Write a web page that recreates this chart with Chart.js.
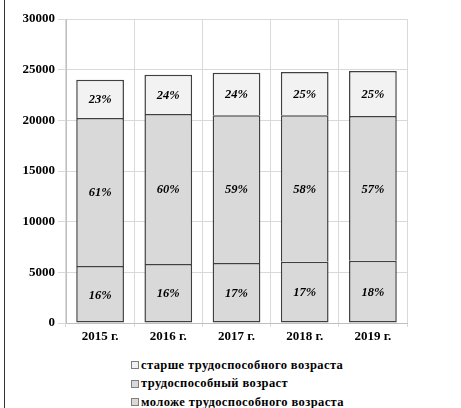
<!DOCTYPE html>
<html lang="ru">
<head>
<meta charset="utf-8">
<title>Возрастная структура населения</title>
<script src="https://cdn.jsdelivr.net/npm/chart.js@4/dist/chart.umd.min.js"></script>
<style>
  body { margin: 0; background: #fff; }
  #page { position: relative; width: 461px; height: 408px; overflow: hidden; }
  #edge { position: absolute; left: 4px; top: 0; width: 1px; height: 408px; background: #333; }
  #box { position: absolute; left: 0; top: 0; width: 461px; height: 345px; }
  #legend { position: absolute; left: 131px; top: 356px; margin: 0; padding: 0; list-style: none;
            font: bold 12.5px "Liberation Serif", "Times New Roman", serif; color: #000; letter-spacing: 0.4px; }
  #legend li { height: 18.5px; line-height: 15px; display: flex; align-items: center; white-space: nowrap; }
  #legend .sw { display: inline-block; width: 6px; height: 6px; border: 1px solid #7f7f7f; margin-right: 2px; }
</style>
</head>
<body>
<div id="page">
  <div id="edge"></div>
  <div id="box"><canvas id="chart"></canvas></div>
  <ul id="legend"></ul>
</div>
<script>
// годы
var years = ['2015 г.', '2016 г.', '2017 г.', '2018 г.', '2019 г.'];

// численность по группам, чел.
var younger = [5620, 5820, 5920, 6050, 6150];
var working = [14610, 14810, 14580, 14450, 14280];
var older = [3770, 3870, 4200, 4270, 4440];

// подписи долей на столбцах
var youngerPct = ['16%', '16%', '17%', '17%', '18%'];
var workingPct = ['61%', '60%', '59%', '58%', '57%'];
var olderPct = ['23%', '24%', '24%', '25%', '25%'];

var yTicks = [0, 5000, 10000, 15000, 20000, 25000, 30000];

var serif = '"Liberation Serif", "Times New Roman", serif';

// подписи процентов в центре каждого сегмента
var pctLabels = {
  id: 'pctLabels',
  afterDatasetsDraw: function (chart) {
    var ctx = chart.ctx;
    ctx.save();
    ctx.font = 'italic bold 12.5px ' + serif;
    ctx.fillStyle = '#000';
    ctx.textAlign = 'center';
    ctx.textBaseline = 'middle';
    chart.data.datasets.forEach(function (ds, i) {
      chart.getDatasetMeta(i).data.forEach(function (bar, j) {
        var c = bar.getCenterPoint();
        ctx.fillText(ds.pct[j], c.x, c.y + 1);
      });
    });
    ctx.restore();
  }
};

// легенда списком под графиком
var htmlLegend = {
  id: 'htmlLegend',
  afterUpdate: function (chart) {
    var ul = document.getElementById('legend');
    ul.innerHTML = '';
    var items = chart.options.plugins.legend.labels.generateLabels(chart).reverse();
    items.forEach(function (item) {
      var li = document.createElement('li');
      var sw = document.createElement('span');
      sw.className = 'sw';
      sw.style.background = item.fillStyle;
      li.appendChild(sw);
      li.appendChild(document.createTextNode(item.text));
      ul.appendChild(li);
    });
  }
};

function ds(label, data, pct, color, skip) {
  return {
    label: label,
    data: data,
    pct: pct,
    backgroundColor: color,
    borderColor: '#404040',
    borderWidth: 1.5,
    borderSkipped: skip,
    categoryPercentage: 1,
    barPercentage: 0.7
  };
}

new Chart(document.getElementById('chart'), {
  type: 'bar',
  data: {
    labels: years,
    datasets: [
      ds('моложе трудоспособного возраста', younger, youngerPct, '#d9d9d9', false),
      ds('трудоспособный возраст', working, workingPct, '#d9d9d9', 'start'),
      ds('старше трудоспособного возраста', older, olderPct, '#f2f2f2', 'start')
    ]
  },
  options: {
    responsive: true,
    maintainAspectRatio: false,
    animation: false,
    layout: { padding: { top: 19, right: 54, left: 0, bottom: 0 } },
    plugins: {
      legend: { display: false },
      tooltip: { enabled: false }
    },
    scales: {
      x: {
        stacked: true,
        grid: { color: '#d9d9d9', lineWidth: 1, tickLength: 4 },
        border: { color: '#bfbfbf' },
        ticks: { color: '#000', font: { family: serif, size: 13, weight: 'bold' }, padding: 2 },
        afterFit: function (s) { s.height = 22; }
      },
      y: {
        stacked: true,
        min: 0,
        max: 30000,
        afterBuildTicks: function (s) { s.ticks = yTicks.map(function (v) { return { value: v }; }); },
        grid: { color: '#d9d9d9', lineWidth: 1, tickLength: 8 },
        border: { color: '#bfbfbf' },
        ticks: {
          color: '#000',
          font: { family: serif, size: 13, weight: 'bold' },
          padding: 3,
          callback: function (v) { return String(v); }
        },
        afterFit: function (s) { s.width = 66; }
      }
    }
  },
  plugins: [pctLabels, htmlLegend]
});
</script>
</body>
</html>
